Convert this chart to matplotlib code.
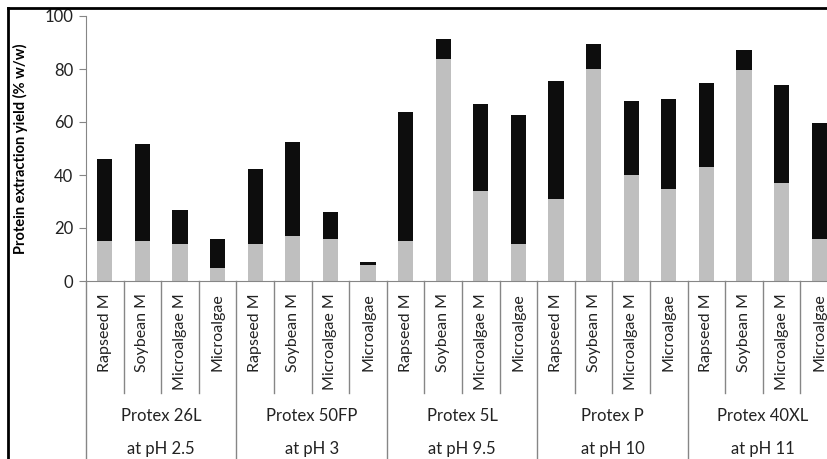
import matplotlib.pyplot as plt
from matplotlib.lines import Line2D

plt.rcParams['font.family'] = ['Lato', 'DejaVu Sans']

sustratos = ['Rapseed M', 'Soybean M', 'Microalgae M', 'Microalgae']
enzimas = ['Protex 26L', 'Protex 50FP', 'Protex 5L', 'Protex P', 'Protex 40XL']
ph = ['at pH 2.5', 'at pH 3', 'at pH 9.5', 'at pH 10', 'at pH 11']

# parte gris (abajo) y total de cada barra
gris = [15, 15, 13.8, 5, 13.8, 17, 16, 6, 15, 83.8, 34, 13.8,
        30.9, 79.9, 39.9, 34.8, 42.9, 79.7, 37, 16]
total = [45.9, 51.8, 26.8, 16, 42.4, 52.3, 26.2, 7, 63.7, 91.2, 66.9, 62.8,
         75.4, 89.3, 68, 68.7, 74.7, 87.3, 74.1, 59.7]
negro = [t - g for t, g in zip(total, gris)]

etiquetas = sustratos * len(enzimas)
x = list(range(len(etiquetas)))

fig = plt.figure(figsize=(8.27, 4.59), dpi=100)
ax = fig.add_axes([86 / 827, 1 - 281 / 459, 752 / 827, 265 / 459])

ax.bar(x, gris, width=0.4, color='#BFBFBF')
ax.bar(x, negro, width=0.4, bottom=gris, color='#0D0D0D')

ax.set_xlim(-0.5, len(x) - 0.5)
ax.set_ylim(0, 100)
ax.set_yticks([0, 20, 40, 60, 80, 100])
ax.tick_params(axis='y', labelsize=12, color='#868686', length=5, pad=4,
               labelcolor='#222222')
ax.set_xticks([])
for s in ['top', 'right']:
    ax.spines[s].set_visible(False)
for s in ['left', 'bottom']:
    ax.spines[s].set_color('#868686')
ax.set_ylabel('Protein extraction yield (% w/w)', fontsize=10.5, fontweight='bold', labelpad=12)

# etiquetas del eje x en varios niveles
tr = ax.get_xaxis_transform()
for i, lab in enumerate(etiquetas):
    ax.text(i, -0.045, lab, rotation=90, ha='center', va='top', fontsize=11.5,
            color='#222222', transform=tr)
for i in range(len(x) + 1):
    if i % 4 == 0:
        ax.plot([i - 0.5, i - 0.5], [0, -0.7], color='#868686', lw=1,
                transform=tr, clip_on=False)
    else:
        ax.plot([i - 0.5, i - 0.5], [0, -0.423], color='#868686', lw=1,
                transform=tr, clip_on=False)
for k, (e, p) in enumerate(zip(enzimas, ph)):
    c = 4 * k + 1.5
    ax.text(c, -0.51, e, ha='center', va='center', fontsize=12, color='#222222', transform=tr)
    ax.text(c, -0.635, p, ha='center', va='center', fontsize=12, color='#222222', transform=tr)

# marco del grafico
fig.add_artist(Line2D([8 / 827, 1], [1 - 8 / 459, 1 - 8 / 459], color='black', lw=2))
fig.add_artist(Line2D([8 / 827, 8 / 827], [0, 1 - 8 / 459], color='black', lw=2))

fig.savefig('out.png', dpi=100)
